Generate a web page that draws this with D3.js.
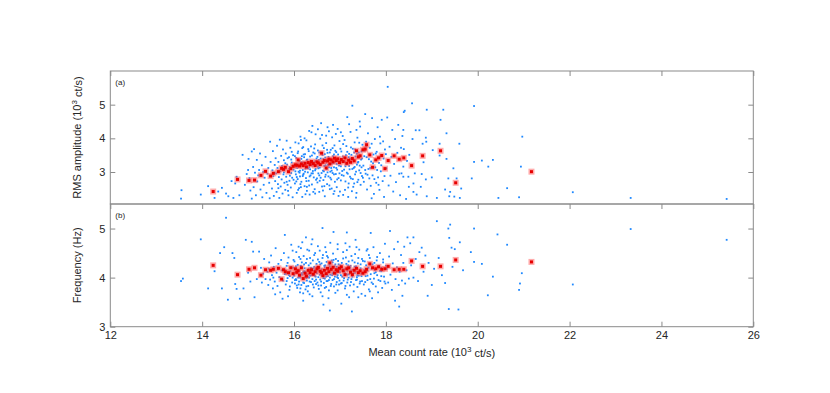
<!DOCTYPE html>
<html>
<head>
<meta charset="utf-8">
<script src="https://cdn.jsdelivr.net/npm/d3@7"></script>
<style>
  body { margin: 0; background: #fff; }
  text { font-family: "Liberation Sans", Arial, sans-serif; }
</style>
</head>
<body>
<div id="chart"></div>
<script>
// ---- data: individual observations (blue) ----
var rmsPoints = [
[13.55,2.46],[13.54,2.21],[13.97,2.33],[14.13,2.58],[14.27,2.23],[14.43,2.53],[14.52,2.36],[14.57,2.28],[14.68,2.23],[14.64,2.73],[14.72,2.66],[14.75,2.86],[14.88,3.51],[14.35,2.42],[14.81,2.31],[14.93,2.62],[14.97,2.94],
[15.00,3.06],[15.01,3.39],[15.08,3.61],[15.13,3.68],[15.19,3.36],[15.24,3.06],[15.05,2.45],[15.08,2.21],[15.12,2.55],[15.17,2.31],[15.2,2.72],[15.22,2.9],[15.27,2.48],[15.3,3.2],[15.31,2.25],[15.34,2.62],[15.36,2.83],[15.38,3.45],[15.4,2.38],[15.42,2.95],[15.44,3.12],[15.46,2.68],[15.47,2.22],[15.48,3.90],[15.49,3.3],[15.03,2.82],[15.15,2.98],[15.26,3.55],[15.33,3.0],[15.11,3.15],
[15.52,2.51],[15.53,3.05],[15.54,3.62],[15.55,2.88],[15.56,2.29],[15.58,3.21],[15.59,2.73],[15.6,3.41],[15.61,2.96],[15.62,2.41],[15.63,3.78],[15.64,3.12],[15.65,2.64],[15.66,3.3],[15.67,2.85],[15.68,2.23],[15.69,3.96],[15.7,3.02],[15.71,2.57],[15.72,3.48],[15.73,2.78],[15.74,3.18],[15.75,2.36],[15.76,3.67],[15.77,2.93],[15.78,3.35],[15.79,2.68],[15.8,3.08],[15.81,2.47],[15.82,3.55],[15.83,2.86],[15.84,3.93],[15.85,3.22],[15.86,2.62],[15.87,3.01],[15.88,2.31],[15.89,3.44],[15.9,2.74],[15.91,3.15],[15.92,3.72],[15.93,2.54],[15.94,2.97],[15.95,3.28],[15.96,2.83],[15.97,2.25],[15.98,3.5],[15.99,3.07],[15.57,2.98],[15.66,2.52],[15.78,2.99],[15.87,2.44],[15.95,3.6],
[16.01,3.21],[16.02,2.66],[16.03,3.88],[16.04,2.93],[16.05,3.42],[16.06,2.38],[16.07,3.12],[16.08,2.79],[16.09,3.61],[16.1,3.01],[16.11,2.52],[16.12,3.33],[16.13,2.87],[16.14,4.05],[16.15,3.18],[16.16,2.71],[16.17,3.47],[16.18,2.26],[16.19,3.06],[16.2,3.74],[16.21,2.95],[16.22,3.28],[16.23,2.58],[16.24,3.53],[16.25,3.1],[16.26,2.82],[16.27,3.94],[16.28,2.44],[16.29,3.37],[16.3,2.99],[16.31,3.68],[16.32,2.74],[16.33,3.15],[16.34,2.33],[16.35,3.46],[16.36,2.9],[16.37,3.24],[16.38,4.18],[16.39,2.63],[16.4,4.37],[16.41,3.03],[16.42,3.58],[16.43,2.84],[16.44,3.31],[16.45,2.49],[16.46,3.82],[16.47,3.09],[16.48,2.77],[16.49,3.4],[16.03,3.02],[16.08,3.25],[16.12,2.98],[16.16,3.39],[16.21,3.52],[16.26,3.2],[16.3,3.27],[16.35,3.08],[16.4,3.19],[16.45,3.55],[16.05,2.72],[16.15,2.55],[16.25,2.34],[16.33,2.6],[16.42,2.41],[16.1,3.85],[16.23,4.0],[16.37,3.76],[16.47,4.12],[16.19,2.88],[16.29,3.12],[16.38,2.96],
[16.5,3.22],[16.51,2.69],[16.52,3.64],[16.53,2.96],[16.54,3.36],[16.55,2.41],[16.56,3.13],[16.57,3.99],[16.58,2.83],[16.59,4.45],[16.6,3.27],[16.61,2.57],[16.62,3.5],[16.63,3.04],[16.64,2.76],[16.65,3.71],[16.66,3.18],[16.67,2.28],[16.68,3.43],[16.69,2.92],[16.7,3.86],[16.71,3.09],[16.72,2.64],[16.73,3.57],[16.74,3.21],[16.75,2.87],[16.76,4.21],[16.77,3.34],[16.78,2.49],[16.79,3.01],[16.8,3.66],[16.81,2.78],[16.82,3.25],[16.83,4.03],[16.84,2.97],[16.85,3.47],[16.86,2.35],[16.87,3.14],[16.88,3.79],[16.89,2.71],[16.9,3.3],[16.91,2.94],[16.92,3.59],[16.93,2.55],[16.94,3.07],[16.95,4.28],[16.96,3.38],[16.97,2.82],[16.98,3.19],[16.99,3.92],[16.52,3.16],[16.58,3.4],[16.63,3.3],[16.69,3.2],[16.75,3.45],[16.81,3.12],[16.87,3.52],[16.93,3.24],[16.55,2.9],[16.66,2.58],[16.77,2.6],[16.88,2.43],[16.61,4.1],[16.73,4.33],[16.91,4.13],[16.97,2.29],
[17.0,3.26],[17.02,2.75],[17.03,3.61],[17.05,3.03],[17.06,4.07],[17.08,2.89],[17.09,3.42],[17.11,2.47],[17.12,3.17],[17.14,3.77],[17.15,2.98],[17.16,4.63],[17.17,3.35],[17.19,2.66],[17.2,3.54],[17.21,3.08],[17.23,4.19],[17.24,2.81],[17.25,3.29],[17.27,4.97],[17.28,3.69],[17.29,2.56],[17.3,3.12],[17.32,3.88],[17.33,2.93],[17.34,3.46],[17.36,2.38],[17.37,3.22],[17.38,4.02],[17.4,2.77],[17.41,3.58],[17.42,3.05],[17.44,4.35],[17.45,2.62],[17.46,3.37],[17.48,2.88],[17.49,3.81],[17.04,3.32],[17.13,3.5],[17.22,3.39],[17.31,3.58],[17.39,3.28],[17.47,3.14],[17.07,2.32],[17.18,2.26],[17.26,2.43],[17.35,2.24],[17.1,3.95],[17.43,4.5],
[17.51,3.19],[17.52,2.71],[17.54,3.63],[17.55,4.72],[17.56,2.95],[17.58,3.44],[17.59,2.48],[17.61,4.15],[17.62,3.09],[17.64,2.81],[17.65,3.72],[17.67,2.59],[17.68,3.31],[17.7,4.6],[17.71,2.9],[17.73,3.52],[17.74,2.35],[17.76,3.98],[17.77,3.14],[17.79,2.68],[17.8,3.6],[17.82,4.33],[17.83,2.84],[17.85,3.27],[17.86,2.47],[17.88,3.85],[17.89,3.02],[17.91,4.55],[17.93,2.73],[17.95,3.4],[17.96,2.26],[17.98,3.67],[17.57,3.9],[17.69,2.22],[17.87,4.05],
[18.01,3.11],[18.03,4.62],[18.04,5.53],[18.06,2.6],[18.08,3.75],[18.1,2.89],[18.12,3.45],[18.14,4.25],[18.16,2.42],[18.18,3.24],[18.2,3.98],[18.22,2.7],[18.25,3.57],[18.27,4.4],[18.29,2.95],[18.31,2.31],[18.33,3.72],[18.34,2.96],[18.36,4.07],[18.38,3.16],[18.38,2.86],[18.39,3.68],[18.39,4.78],[18.41,4.82],[18.44,2.2],[18.46,3.33],[18.38,4.25],[18.49,2.86],[18.5,2.56],
[18.51,3.51],[18.57,5.04],[18.58,3.98],[18.6,2.66],[18.6,2.41],[18.63,2.96],[18.65,4.24],[18.67,2.33],[18.73,4.24],[18.76,2.56],[18.78,2.94],[18.8,3.84],[18.82,3.29],[18.87,4.02],[18.87,2.78],[18.88,3.9],[18.89,4.85],[18.89,2.28],[19.0,2.84],[19.02,3.65],[19.11,2.23],[19.17,3.84],[19.17,3.49],[19.19,4.55],[19.25,4.85],[19.29,2.48],[19.32,4.15],[19.32,3.39],[19.36,2.81],[19.38,2.28],[19.4,2.41],[19.47,3.11],[19.49,2.27],[19.54,2.81],[19.6,3.84],[19.61,2.23],[19.64,2.51],[19.87,2.81],[19.92,4.96],[19.92,3.3],[20.09,3.34],[20.23,3.16],[20.33,3.36],[20.45,2.23],[20.64,2.52],[20.9,2.25],[20.94,3.16],[20.97,4.05],[22.07,2.4],[23.33,2.23],[25.42,2.2],
[15.81,3.26],[15.84,2.71],[15.86,3.41],[15.89,3.09],[15.91,2.89],[15.94,3.37],[15.97,3.19],[15.99,2.77],[16.02,3.47],[16.04,3.14],[16.06,2.85],[16.08,3.56],[16.11,3.23],[16.13,3.04],[16.14,2.64],[16.17,3.29],[16.18,3.71],[16.2,2.92],[16.22,3.44],[16.24,3.01],[16.27,2.73],[16.28,3.36],[16.31,3.11],[16.32,3.62],[16.34,2.87],[16.36,3.27],[16.39,3.49],[16.41,2.96],[16.43,3.21],[16.44,3.7],[16.46,3.05],[16.48,3.32],[16.5,2.81],[16.51,3.45],[16.53,3.11],[16.55,3.58],[16.56,2.74],[16.59,3.24],[16.6,2.97],[16.62,3.79],[16.64,3.39],[16.65,3.02],[16.67,3.53],[16.68,2.86],[16.7,3.28],[16.72,3.66],[16.73,2.99],[16.76,3.14],[16.78,3.58],[16.79,2.83],[16.8,3.36],[16.82,3.04],[16.84,3.71],[16.86,3.27],[16.87,2.93],[16.89,3.41],[16.9,3.63],[16.92,3.12],[16.94,2.78],[16.96,3.52],[16.98,3.35],[16.99,2.96],[17.01,3.69],[17.02,3.17],[17.04,2.91],[17.06,3.46],[17.07,3.83],[17.09,3.07],[17.11,3.31],[17.12,2.72],[17.14,3.23],[17.16,3.6],[17.17,2.95],[17.19,3.44],[17.2,3.18],[17.22,2.86],[17.24,3.73],[17.25,3.51],[17.27,3.09],[17.28,2.79],[17.3,3.36],[17.32,3.15],[17.33,3.67],[17.35,3.01],[17.37,3.54],[17.38,2.7],[17.4,3.3],[17.42,3.87],[17.43,3.19],[17.45,2.97],[17.47,3.61],[17.48,3.4],[17.5,2.83],[17.53,3.47],[17.55,3.06],[17.57,3.76],[17.6,2.92],[17.63,3.38],[17.66,3.12],[17.69,3.84],[17.72,3.26],[17.75,2.79],[17.78,3.55],[17.81,3.06],[17.84,2.62],[17.87,3.43],[17.9,3.2],[17.94,3.91],[17.97,2.88],[18.0,3.53],[16.15,3.95],[16.33,4.22],[16.52,4.27],[16.7,4.08],[16.85,4.4],[17.02,4.18],[17.2,4.42],[17.36,4.25],[16.09,2.47],[16.28,2.56],[16.46,2.36],[16.63,2.45],[16.82,2.51],[17.0,2.42],[17.18,2.54],[17.31,2.66]
];

var freqPoints = [
[13.54,3.93],[13.58,3.98],[13.97,4.78],[14.13,3.78],[14.27,4.13],[14.39,4.5],[14.43,3.78],[14.48,4.62],[14.52,5.22],[14.56,3.55],[14.66,4.5],[14.7,4.4],[14.72,3.87],[14.75,3.77],[14.82,3.57],[14.9,3.78],[14.95,4.77],[15.0,4.1],[15.05,3.92],[15.08,4.73],[15.11,4.53],[15.14,3.6],[15.19,3.97],[15.24,4.53],[15.28,4.2],[15.3,3.9],[15.33,4.08],[15.35,4.38],[15.38,3.97],
[15.42,4.12],[15.44,3.85],[15.46,4.31],[15.48,3.96],[15.5,4.45],[15.52,4.05],[15.54,3.78],[15.56,4.22],[15.58,3.92],[15.6,4.6],[15.62,4.1],[15.64,3.83],[15.66,4.28],[15.68,4.01],[15.7,3.7],[15.72,4.36],[15.74,4.15],[15.75,3.57],[15.76,3.94],[15.78,4.5],[15.8,4.87],[15.8,4.07],[15.82,3.86],[15.84,4.24],[15.86,3.99],[15.88,4.41],[15.9,3.75],[15.92,4.13],[15.94,4.67],[15.96,3.9],[15.98,4.2],[15.45,4.18],[15.55,4.0],[15.65,4.17],[15.73,3.97],[15.83,4.08],[15.91,4.03],[15.97,4.55],[15.59,3.66],[15.87,3.62],
[16.0,4.04],[16.01,4.33],[16.02,3.88],[16.03,4.17],[16.04,3.97],[16.05,4.52],[16.06,4.09],[16.07,3.79],[16.08,4.26],[16.09,4.0],[16.1,4.63],[16.11,3.92],[16.12,4.14],[16.13,3.7],[16.14,4.38],[16.15,4.06],[16.16,3.85],[16.17,4.21],[16.18,4.72],[16.19,3.98],[16.2,4.11],[16.2,3.53],[16.21,4.44],[16.22,3.89],[16.23,4.19],[16.24,4.02],[16.25,3.76],[16.26,4.3],[16.27,4.08],[16.28,3.94],[16.29,4.57],[16.3,4.15],[16.31,3.83],[16.32,4.25],[16.33,4.0],[16.34,3.66],[16.35,4.4],[16.36,4.1],[16.37,3.91],[16.38,4.68],[16.39,4.18],[16.4,3.97],[16.41,4.35],[16.42,4.05],[16.43,3.8],[16.44,4.22],[16.45,3.93],[16.46,4.5],[16.47,4.12],[16.48,3.87],[16.49,4.28],[16.02,4.1],[16.07,4.16],[16.12,4.03],[16.17,4.09],[16.22,4.13],[16.27,3.99],[16.32,4.07],[16.37,4.2],[16.42,4.14],[16.47,4.02],[16.05,3.95],[16.15,4.24],[16.25,4.12],[16.35,4.04],[16.45,4.16],[16.1,3.86],[16.3,3.72],[16.4,4.78],[16.26,4.82],
[16.5,4.09],[16.51,3.9],[16.52,4.37],[16.53,4.01],[16.54,3.77],[16.55,4.2],[16.56,4.55],[16.57,3.96],[16.58,4.13],[16.59,3.84],[16.6,4.29],[16.61,4.04],[16.62,3.62],[16.62,5.01],[16.63,4.46],[16.64,3.45],[16.64,4.1],[16.65,3.89],[16.66,4.24],[16.67,3.98],[16.68,4.62],[16.69,4.15],[16.7,3.81],[16.71,4.32],[16.72,4.06],[16.73,3.93],[16.74,4.41],[16.75,4.11],[16.76,3.74],[16.77,4.26],[16.78,3.33],[16.78,4.0],[16.79,4.71],[16.8,4.17],[16.81,3.87],[16.82,4.35],[16.83,4.05],[16.84,3.95],[16.85,4.49],[16.86,4.93],[16.86,4.12],[16.87,3.82],[16.88,4.23],[16.89,4.02],[16.9,3.69],[16.91,4.38],[16.92,4.08],[16.93,3.91],[16.94,4.19],[16.95,4.58],[16.96,3.99],[16.97,4.27],[16.98,3.86],[16.99,4.14],[16.53,4.18],[16.6,4.07],[16.67,4.21],[16.74,4.03],[16.81,4.15],[16.88,4.1],[16.95,4.05],[16.57,4.27],[16.71,3.93],[16.84,4.31],[16.93,4.22],
[17.0,4.11],[17.02,3.88],[17.03,3.47],[17.04,4.3],[17.05,4.02],[17.07,4.52],[17.08,3.94],[17.1,4.18],[17.11,3.78],[17.13,4.41],[17.14,4.07],[17.15,4.92],[17.16,3.9],[17.18,4.25],[17.19,4.0],[17.21,4.63],[17.22,3.84],[17.24,4.15],[17.25,3.97],[17.26,3.31],[17.27,4.35],[17.29,4.09],[17.3,3.72],[17.32,4.22],[17.33,4.48],[17.35,3.95],[17.36,4.13],[17.38,3.81],[17.39,4.29],[17.41,4.04],[17.42,4.57],[17.44,3.92],[17.45,4.19],[17.47,3.67],[17.48,4.38],[17.01,4.2],[17.09,4.12],[17.17,4.06],[17.23,4.24],[17.31,4.1],[17.37,4.01],[17.46,4.08],[17.12,4.7],[17.34,4.77],[17.2,3.6],
[17.5,4.1],[17.52,3.86],[17.54,4.33],[17.55,3.63],[17.56,4.03],[17.58,4.55],[17.6,3.95],[17.62,4.2],[17.63,3.76],[17.65,4.4],[17.67,4.91],[17.67,4.07],[17.69,3.9],[17.71,4.27],[17.73,4.62],[17.74,3.98],[17.76,4.16],[17.78,3.82],[17.8,4.35],[17.81,4.05],[17.83,3.7],[17.85,4.24],[17.87,4.5],[17.88,3.93],[17.9,4.13],[17.92,3.79],[17.94,4.31],[17.96,4.02],[17.98,4.69],[17.99,3.88],[17.6,4.14],[17.75,4.09],[17.9,4.2],[17.7,3.58],
[18.02,4.18],[18.05,3.9],[18.07,4.43],[18.09,4.95],[18.1,4.06],[18.13,3.75],[18.15,4.29],[18.18,4.58],[18.2,3.53],[18.21,3.97],[18.24,4.21],[18.26,4.73],[18.28,3.85],[18.29,3.41],[18.3,4.12],[18.33,4.46],[18.35,3.94],[18.36,3.63],[18.38,4.3],[18.4,4.63],[18.42,3.88],[18.45,4.15],[18.47,4.82],[18.5,3.98],[18.53,4.7],[18.55,4.25],[18.6,4.82],[18.6,4.0],
[18.65,4.38],[18.7,3.93],[18.73,4.52],[18.78,4.61],[18.82,4.12],[18.86,4.45],[18.91,3.63],[18.93,4.3],[19.0,3.85],[19.05,4.18],[19.11,5.15],[19.15,4.4],[19.22,4.05],[19.29,3.89],[19.36,5.0],[19.37,3.36],[19.38,4.81],[19.4,5.08],[19.43,4.61],[19.45,4.22],[19.5,4.58],[19.58,3.35],[19.61,4.72],[19.68,4.15],[19.85,4.52],[19.92,5.0],[19.92,4.32],[20.09,4.28],[20.22,3.64],[20.33,4.02],[20.43,4.88],[20.64,4.67],[20.9,3.75],[20.92,3.88],[20.96,4.09],[22.07,3.86],[23.33,4.99],[25.42,4.77],
[15.81,4.16],[15.84,3.93],[15.86,4.3],[15.89,4.05],[15.91,3.82],[15.94,4.21],[15.97,4.0],[15.99,4.36],[16.02,3.95],[16.04,4.23],[16.06,3.84],[16.08,4.12],[16.11,4.42],[16.13,4.0],[16.14,3.78],[16.17,4.31],[16.18,4.06],[16.2,3.9],[16.22,4.27],[16.24,4.11],[16.27,3.82],[16.28,4.38],[16.31,4.01],[16.32,4.17],[16.34,3.92],[16.36,4.29],[16.39,4.05],[16.41,3.86],[16.43,4.19],[16.44,4.46],[16.46,4.03],[16.48,3.96],[16.5,4.22],[16.51,4.14],[16.53,3.84],[16.55,4.32],[16.56,4.06],[16.59,3.92],[16.6,4.17],[16.62,4.4],[16.64,3.99],[16.65,4.13],[16.67,3.79],[16.68,4.25],[16.7,4.02],[16.72,4.44],[16.73,4.16],[16.76,3.95],[16.78,4.22],[16.79,4.06],[16.8,3.83],[16.82,4.18],[16.84,4.09],[16.86,4.36],[16.87,3.97],[16.89,4.14],[16.9,4.27],[16.92,3.86],[16.94,4.01],[16.96,4.34],[16.98,4.12],[16.99,3.94],[17.01,4.25],[17.02,4.05],[17.04,3.89],[17.06,4.17],[17.07,4.39],[17.09,3.99],[17.11,4.09],[17.12,3.83],[17.14,4.28],[17.16,4.14],[17.17,3.96],[17.19,4.33],[17.2,4.07],[17.22,4.2],[17.24,3.91],[17.25,4.44],[17.27,4.02],[17.28,4.16],[17.3,3.86],[17.32,4.31],[17.33,4.1],[17.35,4.23],[17.37,3.96],[17.38,4.05],[17.4,4.4],[17.42,4.12],[17.43,3.88],[17.45,4.27],[17.47,4.03],[17.48,3.93],[17.5,4.34],[17.53,4.16],[17.55,3.91],[17.57,4.25],[17.6,4.04],[17.63,4.46],[17.66,3.97],[17.69,4.18],[17.72,3.87],[17.75,4.3],[17.78,4.11],[17.81,4.42],[17.84,3.95],[17.87,4.14],[17.9,4.03],[17.94,4.37],[17.97,3.92],[18.0,4.24],[16.15,4.6],[16.33,4.55],[16.52,4.64],[16.7,4.52],[16.95,4.68],[17.15,4.56],[17.36,4.62],[17.6,4.58],[16.2,3.68],[16.4,3.62],[16.58,3.7],[16.75,3.58],[16.95,3.74],[17.15,3.65],[17.4,3.6],[17.65,3.72]
];

// ---- data: binned averages (red) ----
var redRate = [14.24,14.77,15.02,15.14,15.28,15.38,15.49,15.55,15.66,15.73,15.77,15.81,15.88,15.93,15.98,16.03,16.06,16.09,16.12,16.16,16.2,16.24,16.27,16.31,16.35,16.38,16.42,16.46,16.5,16.53,16.57,16.6,16.63,16.66,16.7,16.73,16.76,16.78,16.81,16.85,16.88,16.92,16.95,16.99,17.03,17.07,17.11,17.15,17.19,17.23,17.27,17.31,17.36,17.4,17.44,17.5,17.55,17.58,17.65,17.71,17.78,17.84,17.91,17.98,18.05,18.18,18.29,18.39,18.56,18.8,19.19,19.52,21.17];
var redRms  = [2.42,2.78,2.75,2.76,2.9,3.02,2.88,2.96,3.01,3.11,3.08,3.14,3.01,3.1,3.17,3.21,3.2,3.36,3.18,3.24,3.19,3.26,3.15,3.28,3.22,3.31,3.25,3.19,3.3,3.27,3.22,3.56,3.29,3.34,3.12,3.33,3.38,3.24,3.36,3.3,3.41,3.34,3.39,3.28,3.37,3.31,3.42,3.26,3.35,3.29,3.4,3.33,3.63,3.45,3.48,3.66,3.68,3.81,3.51,3.14,3.36,3.42,3.49,3.1,3.34,3.48,3.38,3.42,3.19,3.48,3.63,2.68,3.01];
var redFreq = [4.25,4.06,4.17,4.2,4.05,4.16,4.15,4.17,4.19,3.97,4.16,4.12,4.1,4.2,4.08,4.18,4.11,4.14,4.05,4.2,3.98,4.09,4.03,4.15,4.1,4.16,4.07,4.12,4.18,4.21,4.13,4.1,4.04,4.15,4.08,4.19,4.12,4.3,4.17,4.21,4.09,4.16,4.13,4.19,4.22,4.14,4.06,4.18,4.2,4.11,4.06,4.15,4.19,4.1,4.14,4.09,4.12,4.17,4.28,4.2,4.18,4.22,4.17,4.18,4.23,4.16,4.17,4.17,4.34,4.23,4.23,4.36,4.32];

var xTicks = [12,14,16,18,20,22,24,26];
var yTicks = [3,4,5];

var width = 830, height = 393;
var plotLeft = 110.3, plotRight = 753.3;
var topPanel = {y0: 71, y1: 204};
var botPanel = {y0: 204, y1: 326.7};

var axisColor = "#8a8a8a", textColor = "#262626";

var svg = d3.select("#chart").append("svg")
  .attr("width", width)
  .attr("height", height);

var x = d3.scaleLinear().domain([12, 26]).range([plotLeft, plotRight]);
var yTop = d3.scaleLinear().domain([2.05, 6]).range([topPanel.y1, topPanel.y0]);
var yBot = d3.scaleLinear().domain([3, 5.5]).range([botPanel.y1, botPanel.y0]);

function styleAxis(g) {
  g.select(".domain").remove();
  g.selectAll(".tick line").attr("stroke", axisColor);
  g.selectAll(".tick text").attr("fill", textColor).style("font-size", "11px");
}

function drawPanel(panel, y, pts, redY, tag, label, showX) {
  var id = "clip" + tag;
  svg.append("clipPath").attr("id", id).append("rect")
    .attr("x", plotLeft).attr("y", panel.y0)
    .attr("width", plotRight - plotLeft).attr("height", panel.y1 - panel.y0);

  var g = svg.append("g").attr("clip-path", "url(#" + id + ")");

  // blue observations
  g.selectAll(".dot").data(pts).enter().append("rect")
    .attr("class", "dot")
    .attr("x", function(d) { return x(d[0]) - 0.9; })
    .attr("y", function(d) { return y(d[1]) - 0.9; })
    .attr("width", 1.8).attr("height", 1.8)
    .attr("fill", "#1e88ff");

  // red averages: pale halo + solid centre
  var red = redRate.map(function(r, i) { return [r, redY[i]]; });
  g.selectAll(".halo").data(red).enter().append("rect")
    .attr("x", function(d) { return x(d[0]) - 3; })
    .attr("y", function(d) { return y(d[1]) - 3; })
    .attr("width", 6).attr("height", 6)
    .attr("fill", "#ff5a5a").attr("fill-opacity", 0.5);
  g.selectAll(".core").data(red).enter().append("rect")
    .attr("x", function(d) { return x(d[0]) - 1.5; })
    .attr("y", function(d) { return y(d[1]) - 1.5; })
    .attr("width", 3).attr("height", 3)
    .attr("fill", "#e60000");

  // box
  svg.append("rect")
    .attr("x", plotLeft).attr("y", panel.y0)
    .attr("width", plotRight - plotLeft).attr("height", panel.y1 - panel.y0)
    .attr("fill", "none").attr("stroke", axisColor).attr("stroke-width", 1);

  // inward ticks
  svg.append("g").attr("transform", "translate(" + plotLeft + ",0)")
    .call(d3.axisLeft(y).tickValues(yTicks).tickSize(-5).tickPadding(5).tickFormat(d3.format("d")))
    .call(styleAxis);
  svg.append("g").attr("transform", "translate(" + plotRight + ",0)")
    .call(d3.axisRight(y).tickValues(yTicks).tickSize(-5).tickFormat(""))
    .call(styleAxis);
  svg.append("g").attr("transform", "translate(0," + panel.y0 + ")")
    .call(d3.axisTop(x).tickValues(xTicks).tickSize(-5).tickFormat(""))
    .call(styleAxis);
  if (showX) {
    svg.append("g").attr("transform", "translate(0," + panel.y1 + ")")
      .call(d3.axisBottom(x).tickValues(xTicks).tickSize(-5).tickPadding(5).tickFormat(d3.format("d")))
      .call(styleAxis);
  }

  // panel tag
  svg.append("text")
    .attr("x", plotLeft + 5).attr("y", panel.y0 + 14)
    .attr("fill", textColor).style("font-size", "8px")
    .text("(" + tag + ")");

  // y label
  var cy = (panel.y0 + panel.y1) / 2;
  var t = svg.append("text")
    .attr("transform", "translate(81," + cy + ") rotate(-90)")
    .attr("text-anchor", "middle")
    .attr("fill", textColor).style("font-size", "11px");
  label(t);
}

drawPanel(topPanel, yTop, rmsPoints, redRms, "a", function(t) {
  t.append("tspan").text("RMS amplitude (10");
  t.append("tspan").attr("dy", "-0.45em").style("font-size", "8px").text("3");
  t.append("tspan").attr("dy", "0.45em").text(" ct/s)");
}, false);

drawPanel(botPanel, yBot, freqPoints, redFreq, "b", function(t) {
  t.text("Frequency (Hz)");
}, true);

// x label
var xl = svg.append("text")
  .attr("x", (plotLeft + plotRight) / 2).attr("y", 356)
  .attr("text-anchor", "middle")
  .attr("fill", textColor).style("font-size", "11px");
xl.append("tspan").text("Mean count rate (10");
xl.append("tspan").attr("dy", "-0.45em").style("font-size", "8px").text("3");
xl.append("tspan").attr("dy", "0.45em").text(" ct/s)");
</script>
</body>
</html>
